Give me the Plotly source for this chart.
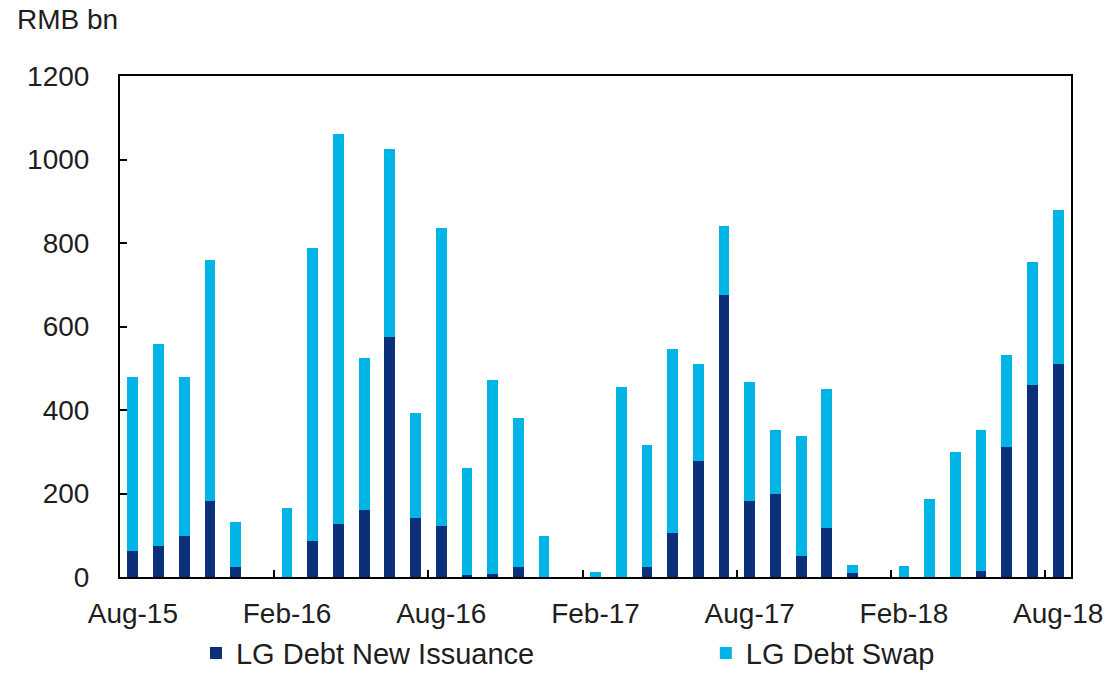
import plotly.graph_objects as go

months = ["Aug-15", "Sep-15", "Oct-15", "Nov-15", "Dec-15", "Jan-16", "Feb-16", "Mar-16", "Apr-16",
          "May-16", "Jun-16", "Jul-16", "Aug-16", "Sep-16", "Oct-16", "Nov-16", "Dec-16", "Jan-17",
          "Feb-17", "Mar-17", "Apr-17", "May-17", "Jun-17", "Jul-17", "Aug-17", "Sep-17", "Oct-17",
          "Nov-17", "Dec-17", "Jan-18", "Feb-18", "Mar-18", "Apr-18", "May-18", "Jun-18", "Jul-18",
          "Aug-18"]

# totals (new issuance + swap)
totals = [478, 557, 479, 760, 132, 0, 165, 787, 1062, 524, 1025, 393, 836, 260, 471, 380, 99, 0,
          12, 456, 316, 545, 509, 841, 466, 352, 337, 450, 29, 0, 26, 188, 299, 352, 531, 755, 879]
new_issuance = [62, 74, 99, 182, 23, 0, 0, 87, 128, 161, 574, 142, 122, 6, 8, 25, 0, 0,
                0, 0, 25, 106, 279, 675, 182, 198, 50, 118, 10, 0, 0, 0, 0, 14, 312, 459, 509]
swap = [t - n for t, n in zip(totals, new_issuance)]

label_months = ["Aug-15", "Feb-16", "Aug-16", "Feb-17", "Aug-17", "Feb-18", "Aug-18"]

x_idx = list(range(len(months)))
label_pos = [months.index(m) for m in label_months]
boundary_pos = [p - 0.5 for p in label_pos[1:]]

DARK = "#0b2f78"
LIGHT = "#00b4e6"
FONT = "Liberation Sans, Arial, sans-serif"
TXT = "#1e1e1e"

fig = go.Figure()
fig.add_trace(go.Bar(x=x_idx, y=new_issuance, name="LG Debt New Issuance", legend="legend",
                     marker=dict(color=DARK, line=dict(width=0)), width=0.42))
fig.add_trace(go.Bar(x=x_idx, y=swap, name="LG Debt Swap", legend="legend2",
                     marker=dict(color=LIGHT, line=dict(width=0)), width=0.42))
# invisible trace that carries the boundary-tick axis
fig.add_trace(go.Scatter(x=[None], y=[None], xaxis="x2", showlegend=False, hoverinfo="skip"))

xr = [-0.5, len(months) - 0.5]
leg_common = dict(orientation="h", yanchor="middle", y=-0.152, xanchor="left",
                  font=dict(size=29, family=FONT, color=TXT), bgcolor="rgba(0,0,0,0)",
                  itemclick=False, itemdoubleclick=False)
fig.update_layout(
    barmode="stack",
    width=1109, height=675,
    margin=dict(l=120, r=38, t=76, b=98, autoexpand=False),
    plot_bgcolor="white", paper_bgcolor="white",
    font=dict(family=FONT, size=28, color=TXT),
    bargap=0,
    xaxis=dict(range=xr, tickmode="array", tickvals=label_pos, ticktext=label_months,
               ticks="", showline=True, linecolor="black", linewidth=2, mirror=True,
               showgrid=False, zeroline=False, ticklabelstandoff=10,
               tickfont=dict(size=28, family=FONT, color=TXT)),
    xaxis2=dict(range=xr, overlaying="x", side="bottom", tickmode="array",
                tickvals=boundary_pos, ticks="inside", ticklen=7, tickwidth=2,
                tickcolor="black", showticklabels=False, showline=False,
                showgrid=False, zeroline=False),
    yaxis=dict(range=[0, 1200], dtick=200, tick0=0, ticks="inside", ticklen=7, tickwidth=2,
               tickcolor="black", showline=True, linecolor="black", linewidth=2, mirror=True,
               showgrid=False, zeroline=False, ticklabelstandoff=23,
               tickfont=dict(size=28, family=FONT, color=TXT)),
    legend=dict(x=0.0799, **leg_common),
    legend2=dict(x=0.616, **leg_common),
    showlegend=True,
    annotations=[dict(text="RMB bn", xref="paper", yref="paper", x=-0.11, y=1.113,
                      xanchor="left", yanchor="middle", showarrow=False,
                      font=dict(size=28, family=FONT, color=TXT))],
)

fig.write_html("out.html")
